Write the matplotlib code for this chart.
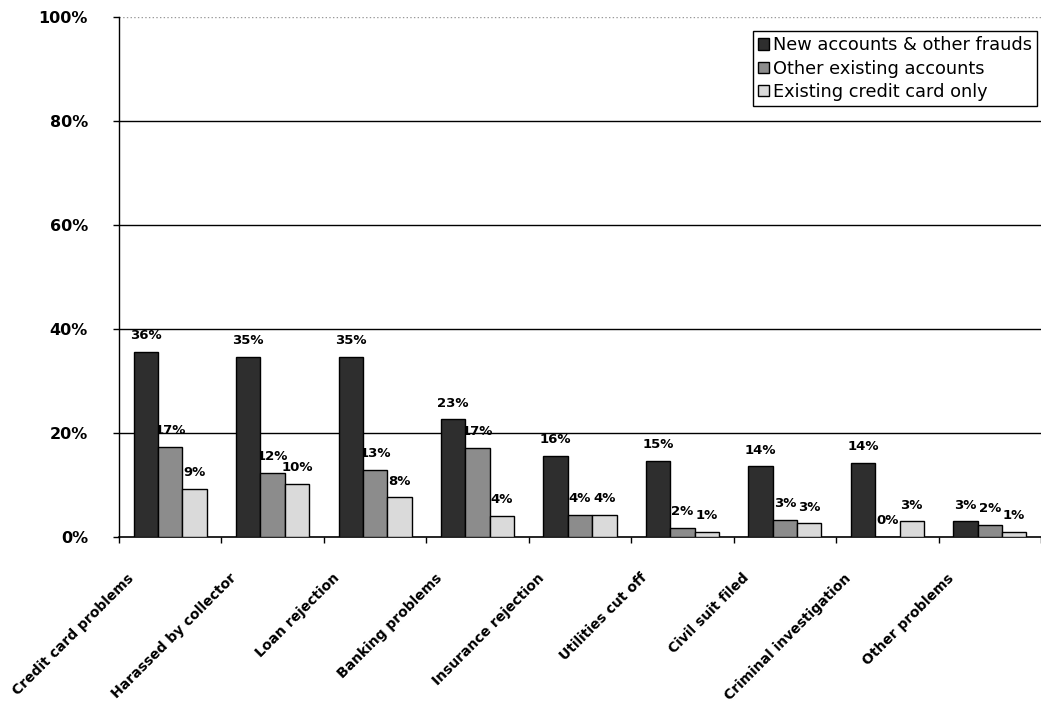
import numpy as np
import matplotlib
matplotlib.use("Agg")
import matplotlib.pyplot as plt
from matplotlib.transforms import ScaledTranslation

# =========================
# data
# =========================
categories = [
    "Credit card problems", "Harassed by collector", "Loan rejection",
    "Banking problems", "Insurance rejection", "Utilities cut off",
    "Civil suit filed", "Criminal investigation", "Other problems",
]
new_accounts = [35.6, 34.6, 34.6, 22.6, 15.6, 14.7, 13.6, 14.2, 3.0]
other_existing = [17.3, 12.4, 12.9, 17.2, 4.2, 1.8, 3.3, 0.0, 2.4]
existing_card = [9.2, 10.2, 7.6, 4.0, 4.2, 1.0, 2.6, 3.0, 1.0]

series_names = ["New accounts & other frauds", "Other existing accounts",
                "Existing credit card only"]
colors = ["#2e2e2e", "#8c8c8c", "#dadada"]

# =========================
# plot
# =========================
fig = plt.figure(figsize=(10.41, 7.06), dpi=100)
ax = fig.add_axes([119 / 1041, 1 - 537 / 706, 922 / 1041, 520 / 706])

x = np.arange(len(categories))
width = 0.238
offsets = [-width, 0, width]

for vals, off, col, name in zip([new_accounts, other_existing, existing_card],
                                offsets, colors, series_names):
    bars = ax.bar(x + off, vals, width, color=col, edgecolor="black",
                  linewidth=1, label=name, zorder=3)
    # labels sit under the bars, so a neighbouring bar can hide part of one
    for b, v in zip(bars, vals):
        ax.annotate(f"{round(v):.0f}%", (b.get_x() + b.get_width() / 2, v),
                    xytext=(0, 7), textcoords="offset points",
                    ha="center", va="bottom", fontsize=9.5, fontweight="bold",
                    family="DejaVu Sans", zorder=2.5)

ax.set_xlim(-0.5, len(categories) - 0.5)
ax.set_ylim(0, 100)

# grid lines
for g in [20, 40, 60, 80]:
    ax.axhline(g, color="black", linewidth=1, zorder=1)
ax.axhline(100, color="#999999", linewidth=1, linestyle=":", zorder=1)

ax.spines["top"].set_visible(False)
ax.spines["right"].set_visible(False)
ax.spines["left"].set_linewidth(1)
ax.spines["bottom"].set_linewidth(1.2)

ax.set_yticks([0, 20, 40, 60, 80, 100])
ax.set_yticklabels([f"{t}%" for t in [0, 20, 40, 60, 80, 100]],
                   fontsize=11.5, fontweight="bold")
ax.tick_params(axis="y", direction="out", length=4.3, width=1, pad=18)

ax.set_xticks(x)
ax.set_xticks(np.arange(len(categories) + 1) - 0.5, minor=True)
ax.tick_params(axis="x", which="major", length=0, pad=28)
ax.tick_params(axis="x", which="minor", direction="out", length=4.3, width=1)
ax.set_xticklabels(categories, rotation=45, ha="right", va="center",
                   rotation_mode="anchor", fontsize=10, fontweight="bold")
shift = ScaledTranslation(-38 / 100, 0, fig.dpi_scale_trans)
for lab in ax.get_xticklabels():
    lab.set_transform(lab.get_transform() + shift)

leg = ax.legend(loc="upper right", bbox_to_anchor=(0.996, 0.973),
                fontsize=12.8, frameon=True, fancybox=False, framealpha=1,
                edgecolor="black", handlelength=0.6, handleheight=0.6,
                handletextpad=0.25, labelspacing=0.3, borderpad=0.3,
                borderaxespad=0)
leg.get_frame().set_linewidth(1)

plt.savefig("out.png", dpi=100)
plt.close()
